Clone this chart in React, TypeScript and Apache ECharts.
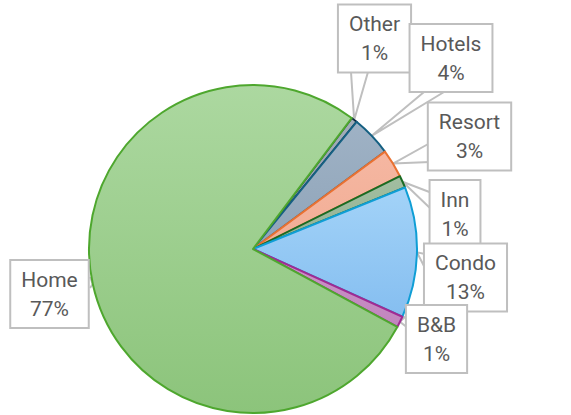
import React, { useEffect, useRef } from "react";
import * as echarts from "echarts";

// Data (clockwise from the Home/Other boundary)
const categories = ["Other", "Hotels", "Resort", "Inn", "Condo", "B&B", "Home"];
const values = [0.6, 4.0, 2.8, 1.2, 12.9, 1.1, 77.4];

// Styles per slice
const fillTop = ["#a3adb8", "#9fb2c5", "#f5b7a2", "#a2bea1", "#a3d3f8", "#cc95c9", "#acd8a0"];
const fillBottom = ["#929eab", "#8fa4b9", "#f2ad94", "#93b292", "#85bef0", "#c185be", "#8cc47b"];
const borders = ["#0e2841", "#156082", "#e97132", "#196b24", "#0f9ed5", "#a02b93", "#4ea72e"];

// Callout layout (box centre, wedge base points)
const labelCenters = [
  [374.5, 38.5],
  [451, 58],
  [469.5, 136.5],
  [455, 214],
  [465.5, 277.5],
  [436.5, 339],
  [49.5, 294],
];
const wedgeBases = [
  [[351, 72], [368, 72]],
  [[424, 92], [444, 92]],
  [[430, 143], [430, 162]],
  [[432, 193], [432, 210]],
  [[425, 254], [425, 268]],
  [[408, 314], [408, 328]],
  [[90, 277], [90, 288]],
];

export default function App() {
  const ref = useRef<HTMLDivElement>(null);
  useEffect(() => {
    document.body.style.margin = "0";
    const chart = echarts.init(ref.current!, null, { renderer: "svg" });
    const data = categories.map((name, i) => ({
      name,
      value: values[i],
      itemStyle: {
        color: new echarts.graphic.LinearGradient(0, 0, 0, 1, [
          { offset: 0, color: fillTop[i] },
          { offset: 1, color: fillBottom[i] },
        ]),
        borderColor: borders[i],
        borderWidth: 2,
      },
    }));
    chart.setOption({
      animation: false,
      backgroundColor: "#ffffff",
      series: [
        {
          type: "pie",
          center: [253, 249],
          radius: 164,
          startAngle: 53,
          clockwise: true,
          avoidLabelOverlap: false,
          data,
          label: {
            show: true,
            formatter: (p: any) => `${p.name}\n${Math.round(p.percent)}%`,
            color: "#595959",
            fontFamily: "Roboto",
            fontSize: 21,
            lineHeight: 29,
            backgroundColor: "#ffffff",
            borderColor: "#bfbfbf",
            borderWidth: 2,
            padding: [4, 10],
            align: "center",
          },
          labelLine: {
            show: true,
            length: 10,
            length2: 10,
            lineStyle: { color: "#bfbfbf", width: 2 },
          },
          labelLayout: (params: any) => {
            const i = params.dataIndex;
            const c = labelCenters[i];
            const tip =
              params.labelLinePoints && params.labelLinePoints[0]
                ? params.labelLinePoints[0]
                : [253, 249];
            const b = wedgeBases[i];
            return {
              x: c[0],
              y: c[1],
              align: "center",
              verticalAlign: "middle",
              labelLinePoints: [b[0], [tip[0], tip[1]], b[1]],
            };
          },
        },
      ],
    });
    return () => chart.dispose();
  }, []);
  return <div ref={ref} style={{ width: 571, height: 415 }} />;
}
